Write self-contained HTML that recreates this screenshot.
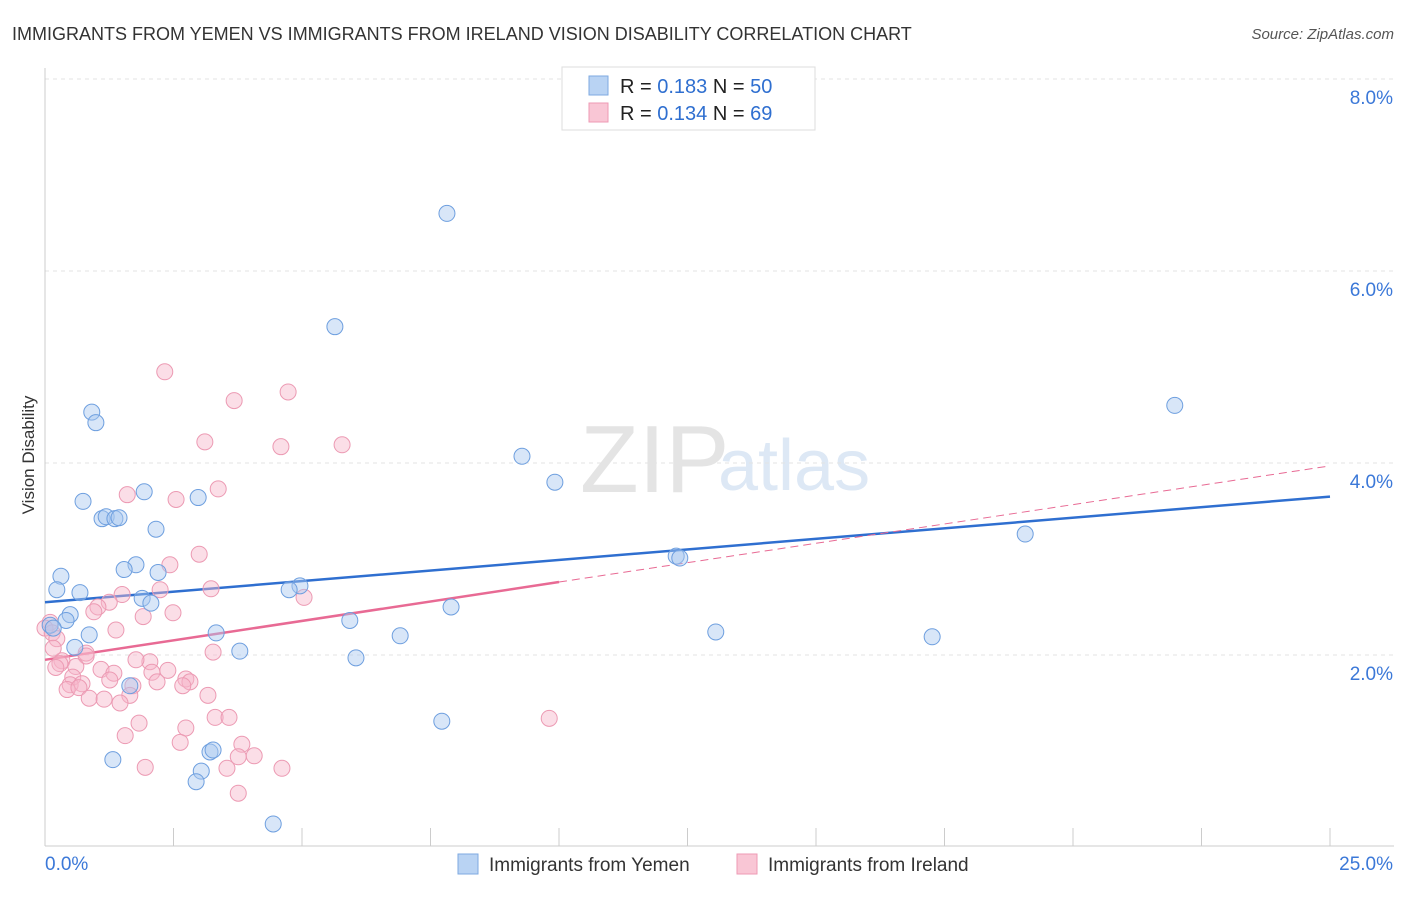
<!DOCTYPE html>
<html><head><meta charset="utf-8"><style>
body{margin:0;background:#fff;font-family:"Liberation Sans",sans-serif}
svg text{font-family:"Liberation Sans",sans-serif}
</style></head><body>
<svg id="c" width="1406" height="892" viewBox="0 0 1406 892">
<text x="12" y="40" font-size="18" fill="#333">IMMIGRANTS FROM YEMEN VS IMMIGRANTS FROM IRELAND VISION DISABILITY CORRELATION CHART</text>
<text x="1394" y="39" font-size="15" fill="#555" text-anchor="end" font-style="italic">Source: ZipAtlas.com</text>
<text x="580" y="492" font-size="96" fill="#e4e4e4" font-family="Liberation Serif">ZIP</text>
<text x="718" y="490" font-size="72" fill="#dde8f5">atlas</text>
<text x="34" y="455" font-size="17" fill="#333" text-anchor="middle" transform="rotate(-90 34 455)">Vision Disability</text>
<g id="grid"></g><g id="axes"></g><g id="lines"></g><g id="pts"></g>
<g>
<rect x="562" y="67" width="253" height="63" fill="#fff" stroke="#ddd"/>
<rect x="589" y="76" width="19" height="19" fill="#b9d3f3" stroke="#7ea9e0"/>
<rect x="589" y="103" width="19" height="19" fill="#f9c6d5" stroke="#ee9ab4"/>
<text x="620" y="93" font-size="20" fill="#222">R = <tspan fill="#2f6fd0">0.183</tspan>   N = <tspan fill="#2f6fd0">50</tspan></text>
<text x="620" y="120" font-size="20" fill="#222">R = <tspan fill="#2f6fd0">0.134</tspan>   N = <tspan fill="#2f6fd0">69</tspan></text>
</g>
<g>
<rect x="458" y="854" width="20" height="20" fill="#b9d3f3" stroke="#7ea9e0"/>
<text x="489" y="871" font-size="19" fill="#333">Immigrants from Yemen</text>
<rect x="737" y="854" width="20" height="20" fill="#f9c6d5" stroke="#ee9ab4"/>
<text x="768" y="871" font-size="19" fill="#333">Immigrants from Ireland</text>
</g>
</svg>
<script>
const yTicks=[2,4,6,8];
const xTickLabels=["0.0%","25.0%"];
const yemenX=[7.82,5.64,0.91,0.99,21.98,9.28,9.92,0.74,1.93,2.98,1.11,1.19,1.36,1.44,2.16,0.31,0.23,0.68,1.77,1.54,2.20,1.89,2.06,0.49,0.41,0.10,0.16,0.86,0.58,4.96,4.75,12.28,12.35,19.07,7.90,5.93,3.33,3.79,6.91,6.05,13.05,17.26,1.65,7.72,3.21,3.27,1.32,3.04,2.94,4.44];
const yemenY=[6.60,5.42,4.53,4.42,4.60,4.07,3.80,3.60,3.70,3.64,3.42,3.44,3.42,3.43,3.31,2.82,2.68,2.65,2.94,2.89,2.86,2.59,2.54,2.42,2.36,2.31,2.28,2.21,2.08,2.72,2.68,3.03,3.01,3.26,2.50,2.36,2.23,2.04,2.20,1.97,2.24,2.19,1.68,1.31,0.99,1.01,0.91,0.79,0.68,0.24];
const irelandX=[2.33,4.73,3.68,3.11,4.59,5.78,1.60,3.37,2.55,3.00,2.43,3.23,2.24,5.04,1.50,1.25,1.03,0.95,2.49,1.91,1.38,0.10,0,0.14,3.27,0.80,0.80,0.33,0.29,0.60,2.04,1.77,0.21,1.09,1.34,2.08,2.39,2.74,2.82,0.54,0.49,0.72,2.18,1.26,1.71,2.68,0.43,0.66,3.17,1.65,0.86,1.15,1.46,3.31,3.58,1.83,2.74,9.81,1.56,2.63,3.83,3.76,4.07,3.54,4.61,1.95,3.76,0.23,0.16];
const irelandY=[4.95,4.74,4.65,4.22,4.17,4.19,3.67,3.73,3.62,3.05,2.94,2.69,2.68,2.60,2.63,2.55,2.50,2.45,2.44,2.40,2.26,2.34,2.28,2.23,2.03,2.02,1.99,1.94,1.91,1.88,1.93,1.95,1.87,1.85,1.81,1.82,1.84,1.75,1.72,1.77,1.69,1.70,1.72,1.74,1.68,1.68,1.64,1.66,1.58,1.58,1.55,1.54,1.50,1.35,1.35,1.29,1.24,1.34,1.16,1.09,1.07,0.94,0.95,0.82,0.82,0.83,0.56,2.17,2.07];
const yemenTrend=[2.55,3.65];
const irelandTrend=[1.95,2.76,3.97];
const NS='http://www.w3.org/2000/svg';
const X=v=>45+v*51.4, Y=v=>847-v*96;
function mk(t,a,p){const e=document.createElementNS(NS,t);for(const k in a)e.setAttribute(k,a[k]);document.getElementById(p).appendChild(e);return e;}
yTicks.forEach(t=>{
 const g=mk('line',{x1:45,x2:1394,y1:Y(t),y2:Y(t),stroke:'#e3e3e3','stroke-dasharray':'4 4'},'grid');
 
 
 const l=mk('text',{x:1393,y:Y(t)+25,'font-size':19,fill:'#3b78d8','text-anchor':'end'},'axes');
 l.textContent=t.toFixed(1)+'%';
 
 
});
mk('line',{x1:45,x2:45,y1:68,y2:846,stroke:'#ccc'},'axes');
mk('line',{x1:45,x2:1394,y1:846,y2:846,stroke:'#ccc'},'axes');
for(let i=0;i<=10;i++){const t=mk('line',{x1:X(i*2.5),x2:X(i*2.5),y1:828,y2:846,stroke:'#ccc'},'axes');
 
 }
const xl0=mk('text',{x:45,y:870,'font-size':19,fill:'#3b78d8'},'axes');xl0.textContent=xTickLabels[0];


const xl1=mk('text',{x:1393,y:870,'font-size':19,fill:'#3b78d8','text-anchor':'end'},'axes');xl1.textContent=xTickLabels[1];


function pts(xs,ys,fill,stroke,name){xs.forEach((x,i)=>{const c=mk('circle',{cx:X(x),cy:Y(ys[i]),r:8,fill:fill,stroke:stroke,'stroke-width':1},'pts');
 
 });}
pts(irelandX,irelandY,'rgba(247,182,202,0.45)','#ec9ab3','ireland-point');
pts(yemenX,yemenY,'rgba(168,199,240,0.45)','#6e9fdf','yemen-point');
const bl=mk('line',{x1:X(0),y1:Y(yemenTrend[0]),x2:X(25),y2:Y(yemenTrend[1]),stroke:'#2f6fd0','stroke-width':2.5},'lines');


const pl=mk('line',{x1:X(0),y1:Y(irelandTrend[0]),x2:X(10),y2:Y(irelandTrend[1]),stroke:'#e86a94','stroke-width':2.5},'lines');


const pd=mk('line',{x1:X(10),y1:Y(irelandTrend[1]),x2:X(25),y2:Y(irelandTrend[2]),stroke:'#e86a94','stroke-width':1,'stroke-dasharray':'8 5'},'lines');


</script>
</body></html>
